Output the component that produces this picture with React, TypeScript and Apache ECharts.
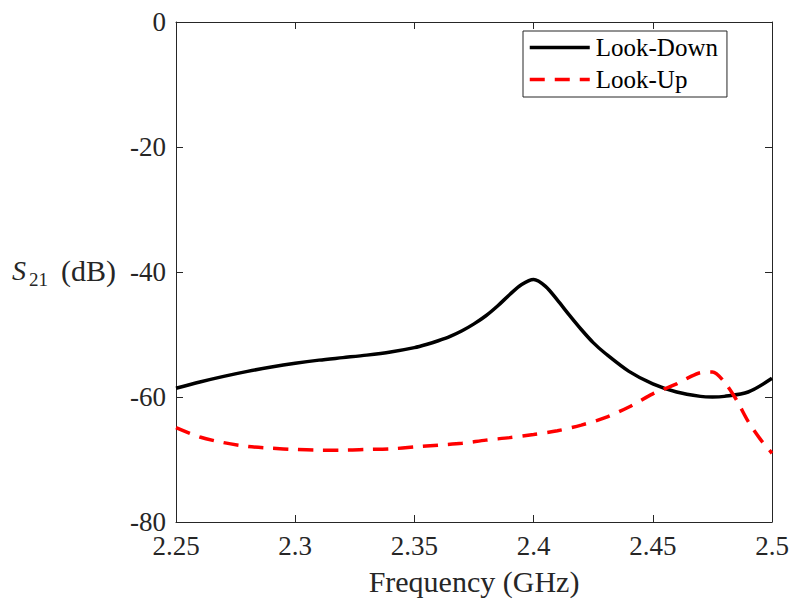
import React, { useEffect, useRef } from "react";
import * as echarts from "echarts";

// Look-Down (black, solid)
const freqDown = [2.25, 2.26, 2.27, 2.28, 2.29, 2.3, 2.31, 2.32, 2.33, 2.34, 2.35, 2.355, 2.36, 2.365, 2.37, 2.375, 2.38, 2.385, 2.39, 2.395, 2.4, 2.405, 2.41, 2.415, 2.42, 2.425, 2.43, 2.44, 2.45, 2.46, 2.47, 2.475, 2.48, 2.49, 2.5];
const s21Down = [-58.6, -57.6, -56.7, -55.9, -55.2, -54.6, -54.1, -53.7, -53.3, -52.8, -52.1, -51.6, -51.0, -50.3, -49.4, -48.3, -47.0, -45.4, -43.6, -42.0, -41.2, -42.3, -44.5, -46.9, -49.2, -51.3, -53.0, -55.9, -57.9, -59.2, -59.9, -60.0, -59.9, -59.2, -57.0];

// Look-Up (red, dashed)
const freqUp = [2.25, 2.26, 2.27, 2.28, 2.29, 2.3, 2.31, 2.32, 2.33, 2.34, 2.35, 2.36, 2.37, 2.38, 2.39, 2.4, 2.41, 2.42, 2.43, 2.44, 2.45, 2.46, 2.465, 2.47, 2.475, 2.48, 2.485, 2.49, 2.495, 2.5];
const s21Up = [-64.9, -66.4, -67.3, -67.9, -68.2, -68.4, -68.5, -68.5, -68.4, -68.3, -68.0, -67.7, -67.4, -66.9, -66.5, -66.0, -65.4, -64.5, -63.3, -61.6, -59.5, -57.9, -56.9, -56.1, -56.0, -57.6, -60.4, -63.9, -66.7, -69.0];

const seriesNames = ["Look-Down", "Look-Up"];
const xRange = { min: 2.25, max: 2.5, interval: 0.05 };
const yRange = { min: -80, max: 0, interval: 20 };

const FONT = "Liberation Serif";
const AX = "#262626";

export default function App() {
  const ref = useRef<HTMLDivElement>(null);
  useEffect(() => {
    if (!ref.current) return;
    const chart = echarts.init(ref.current, undefined, { renderer: "svg" });
    const axisCommon = {
      axisLine: { show: true, onZero: false, lineStyle: { color: AX, width: 1 } },
      axisTick: { show: true, inside: true, length: 7, lineStyle: { color: AX, width: 1 } },
      splitLine: { show: false },
    };
    const fmtX = (v: number) => String(+v.toFixed(2));
    chart.setOption({
      animation: false,
      backgroundColor: "#ffffff",
      grid: { left: 176, right: 20, top: 22, bottom: 81 },
      legend: {
        orient: "vertical",
        left: 523,
        top: 31,
        padding: [4, 9, 5, 5],
        itemGap: 7,
        itemWidth: 60,
        itemHeight: 14,
        backgroundColor: "#ffffff",
        borderColor: AX,
        borderWidth: 1,
        borderRadius: 0,
        itemStyle: { opacity: 0 },
        lineStyle: { width: 3.5 },
        textStyle: { fontFamily: FONT, fontSize: 25, color: "#000", padding: [0, 0, 0, 1] },
        data: seriesNames,
      },
      xAxis: [
        {
          type: "value",
          position: "bottom",
          ...xRange,
          ...axisCommon,
          axisLabel: { fontFamily: FONT, fontSize: 27, color: AX, margin: 10, formatter: fmtX },
          name: "Frequency (GHz)",
          nameLocation: "middle",
          nameGap: 44,
          nameTextStyle: { fontFamily: FONT, fontSize: 30, color: AX },
        },
        {
          type: "value",
          position: "top",
          ...xRange,
          ...axisCommon,
          axisLabel: { show: false },
        },
      ],
      yAxis: [
        {
          type: "value",
          position: "left",
          ...yRange,
          ...axisCommon,
          axisLabel: { fontFamily: FONT, fontSize: 27, color: AX, margin: 10 },
        },
        {
          type: "value",
          position: "right",
          ...yRange,
          ...axisCommon,
          axisLabel: { show: false },
        },
      ],
      graphic: [
        {
          type: "text",
          left: 12,
          top: 256,
          style: { text: "S", fontFamily: FONT, fontStyle: "italic", fontSize: 28, fill: AX },
        },
        {
          type: "text",
          left: 29,
          top: 270,
          style: { text: "21", fontFamily: FONT, fontSize: 19, fill: AX },
        },
        {
          type: "text",
          left: 61,
          top: 255,
          style: { text: "(dB)", fontFamily: FONT, fontSize: 30, fill: AX },
        },
      ],
      series: [
        {
          name: seriesNames[0],
          type: "line",
          data: freqDown.map((f, i) => [f, s21Down[i]]),
          showSymbol: false,
          symbol: "none",
          smooth: 0.3,
          lineStyle: { color: "#000000", width: 3.5 },
          itemStyle: { color: "#000000" },
        },
        {
          name: seriesNames[1],
          type: "line",
          data: freqUp.map((f, i) => [f, s21Up[i]]),
          showSymbol: false,
          symbol: "none",
          smooth: 0.3,
          lineStyle: { color: "#ff0000", width: 3.5, type: [15, 10] },
          itemStyle: { color: "#ff0000" },
        },
      ],
    });
    return () => chart.dispose();
  }, []);
  return <div ref={ref} style={{ width: 792, height: 603, position: "absolute", left: 0, top: 0 }} />;
}
